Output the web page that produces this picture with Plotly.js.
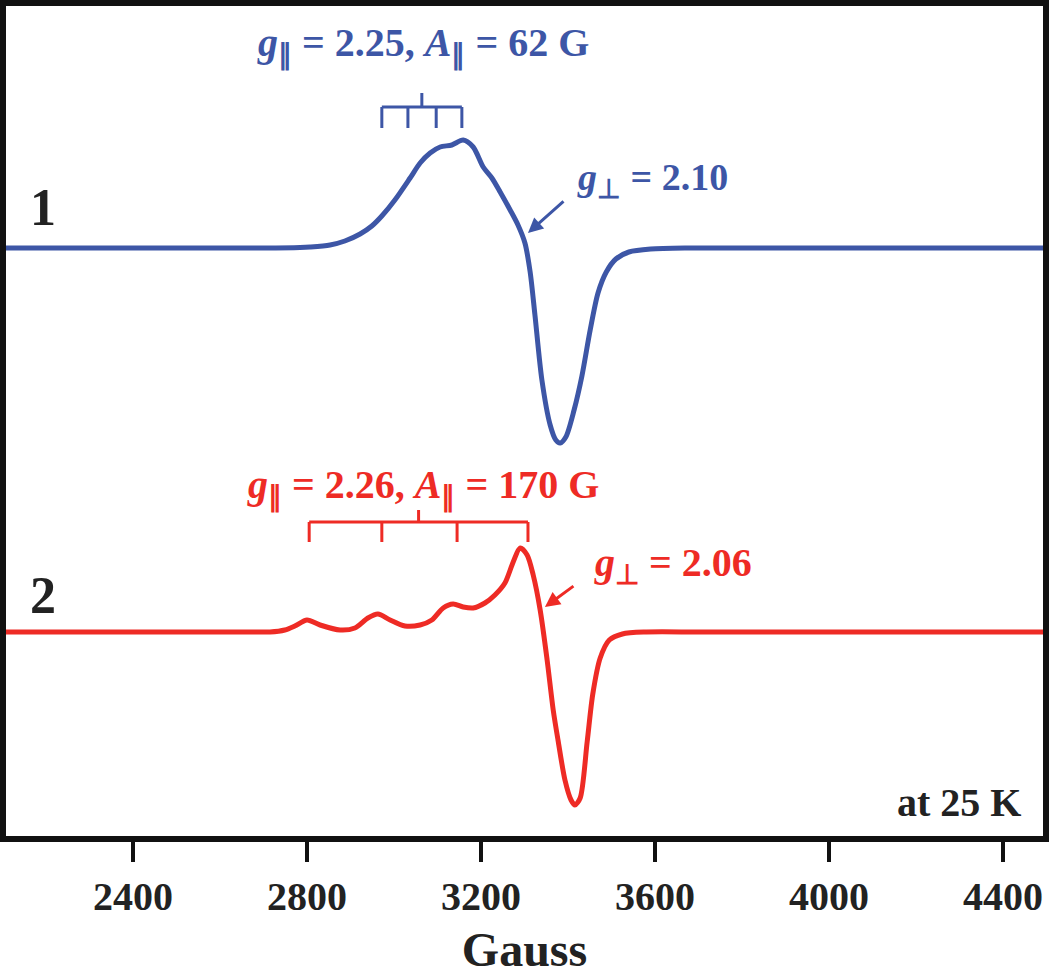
<!DOCTYPE html>
<html>
<head>
<meta charset="utf-8">
<script src="https://cdn.plot.ly/plotly-3.0.1.min.js"></script>
<style>
  html, body { margin: 0; padding: 0; background: #fff; }
  #plot { width: 1050px; height: 977px; }
</style>
</head>
<body>
<div id="plot"></div>
<script>
// spectrum 1 (blue), field in Gauss, signal in arbitrary units
var blueField = [2108, 2400, 2700, 2784, 2807, 2853, 2887, 2922, 2949, 2972, 3002, 3037, 3060, 3083, 3106, 3133, 3159, 3182, 3205, 3225, 3244, 3267, 3285, 3301, 3313, 3324, 3340, 3359, 3372, 3382, 3395, 3414, 3432, 3451, 3469, 3488, 3510, 3540, 3590, 3680, 3900, 4200, 4492];
var blueSignal = [0, 0, 0, 0.005, 0.01, 0.03, 0.07, 0.14, 0.22, 0.32, 0.48, 0.70, 0.85, 0.95, 1.01, 1.03, 1.08, 1.01, 0.81, 0.70, 0.56, 0.38, 0.23, 0.05, -0.24, -0.67, -1.32, -1.77, -1.92, -1.95, -1.89, -1.62, -1.28, -0.82, -0.45, -0.24, -0.11, -0.04, -0.01, 0, 0, 0, 0];

// spectrum 2 (red)
var redField = [2108, 2400, 2700, 2715, 2749, 2772, 2800, 2830, 2876, 2910, 2940, 2963, 2991, 3025, 3060, 3087, 3113, 3136, 3159, 3182, 3209, 3232, 3255, 3274, 3290, 3306, 3320, 3336, 3352, 3366, 3377, 3393, 3407, 3416, 3428, 3444, 3457, 3474, 3495, 3525, 3580, 3700, 3900, 4200, 4492];
var redSignal = [0, 0, 0, 0, 0.02, 0.06, 0.12, 0.07, 0.02, 0.04, 0.14, 0.18, 0.12, 0.06, 0.07, 0.12, 0.24, 0.28, 0.25, 0.24, 0.29, 0.37, 0.49, 0.70, 0.84, 0.77, 0.57, 0.22, -0.28, -0.78, -1.08, -1.48, -1.68, -1.73, -1.66, -1.10, -0.62, -0.26, -0.08, -0.02, 0, 0, 0, 0, 0];

// hyperfine stick positions (Gauss)
var blueSticks = [2972, 3032, 3097, 3156];
var redSticks = [2805, 2972, 3145, 3308];

var tickValues = [2400, 2800, 3200, 3600, 4000, 4400];

var blueOffset = 5.88;
var redOffset = 2.04;
var blueColor = '#3d56a6';
var redColor = '#ee2b25';
var serif = 'Liberation Serif, Times New Roman, serif';

var trace1 = {
    x: blueField,
    y: blueSignal.map(function (v) { return v + blueOffset; }),
    type: 'scatter',
    mode: 'lines',
    line: { color: blueColor, width: 5, shape: 'spline', smoothing: 0.8 },
    hoverinfo: 'skip'
};

var trace2 = {
    x: redField,
    y: redSignal.map(function (v) { return v + redOffset; }),
    type: 'scatter',
    mode: 'lines',
    line: { color: redColor, width: 5, shape: 'spline', smoothing: 0.8 },
    hoverinfo: 'skip'
};

// bracket (stick diagram) built from stick positions
function bracket(sticks, yTop, drop, rise, color) {
    var out = [];
    var first = sticks[0], last = sticks[sticks.length - 1];
    out.push({ type: 'line', xref: 'x', yref: 'y', x0: first, x1: last, y0: yTop, y1: yTop, line: { color: color, width: 3 } });
    sticks.forEach(function (s) {
        out.push({ type: 'line', xref: 'x', yref: 'y', x0: s, x1: s, y0: yTop, y1: yTop - drop, line: { color: color, width: 3 } });
    });
    var mid = (first + last) / 2;
    out.push({ type: 'line', xref: 'x', yref: 'y', x0: mid, x1: mid, y0: yTop, y1: yTop + rise, line: { color: color, width: 3 } });
    return out;
}

var shapes = bracket(blueSticks, 7.29, 0.21, 0.14, blueColor).concat(bracket(redSticks, 3.14, 0.20, 0.12, redColor));

var annotations = [
    { x: 2193, y: 6.29, xref: 'x', yref: 'y', text: '<b>1</b>', showarrow: false, font: { family: serif, size: 52, color: '#222' } },
    { x: 2193, y: 2.41, xref: 'x', yref: 'y', text: '<b>2</b>', showarrow: false, font: { family: serif, size: 52, color: '#222' } },
    { x: 3067, y: 7.91, xref: 'x', yref: 'y', text: '<b><i>g</i><sub>∥</sub> = 2.25, <i>A</i><sub>∥</sub> = 62 G</b>', showarrow: false, font: { family: serif, size: 40, color: blueColor } },
    { x: 3067, y: 3.49, xref: 'x', yref: 'y', text: '<b><i>g</i><sub>∥</sub> = 2.26, <i>A</i><sub>∥</sub> = 170 G</b>', showarrow: false, font: { family: serif, size: 40, color: redColor } },
    { x: 3416, y: 6.56, xref: 'x', yref: 'y', xanchor: 'left', text: '<b><i>g</i><sub>⊥</sub> = 2.10</b>', showarrow: false, font: { family: serif, size: 38, color: blueColor } },
    { x: 3455, y: 2.71, xref: 'x', yref: 'y', xanchor: 'left', text: '<b><i>g</i><sub>⊥</sub> = 2.06</b>', showarrow: false, font: { family: serif, size: 40, color: redColor } },
    { x: 3308, y: 6.03, xref: 'x', yref: 'y', text: '', showarrow: true, ax: 37, ay: -33, arrowhead: 2, arrowsize: 1, arrowwidth: 3, arrowcolor: blueColor },
    { x: 3347, y: 2.29, xref: 'x', yref: 'y', text: '', showarrow: true, ax: 30, ay: -22, arrowhead: 2, arrowsize: 1, arrowwidth: 3, arrowcolor: redColor },
    { x: 0.981, y: 0.04, xref: 'paper', yref: 'paper', xanchor: 'right', yanchor: 'middle', text: '<b>at 25 K</b>', showarrow: false, font: { family: serif, size: 40, color: '#222' } }
];

var layout = {
    width: 1050,
    height: 977,
    margin: { l: 6, r: 7, t: 6, b: 141 },
    paper_bgcolor: '#fff',
    plot_bgcolor: '#fff',
    showlegend: false,
    font: { family: serif, color: '#222' },
    xaxis: {
        range: [2108, 4492],
        tickvals: tickValues,
        ticktext: tickValues.map(function (t) { return '<b>' + t + '</b>'; }),
        ticks: 'outside',
        ticklen: 20,
        tickwidth: 4,
        tickcolor: '#111',
        tickfont: { family: serif, size: 40, color: '#222' },
        showline: true,
        linecolor: '#111',
        linewidth: 6,
        mirror: true,
        showgrid: false,
        zeroline: false,
        title: { text: '<b>Gauss</b>', font: { family: serif, size: 48, color: '#222' }, standoff: 16 }
    },
    yaxis: {
        range: [0, 8.30],
        showticklabels: false,
        ticks: '',
        showline: true,
        linecolor: '#111',
        linewidth: 6,
        mirror: true,
        showgrid: false,
        zeroline: false
    },
    shapes: shapes,
    annotations: annotations
};

Plotly.newPlot('plot', [trace1, trace2], layout, { displayModeBar: false, staticPlot: true });
</script>
</body>
</html>
